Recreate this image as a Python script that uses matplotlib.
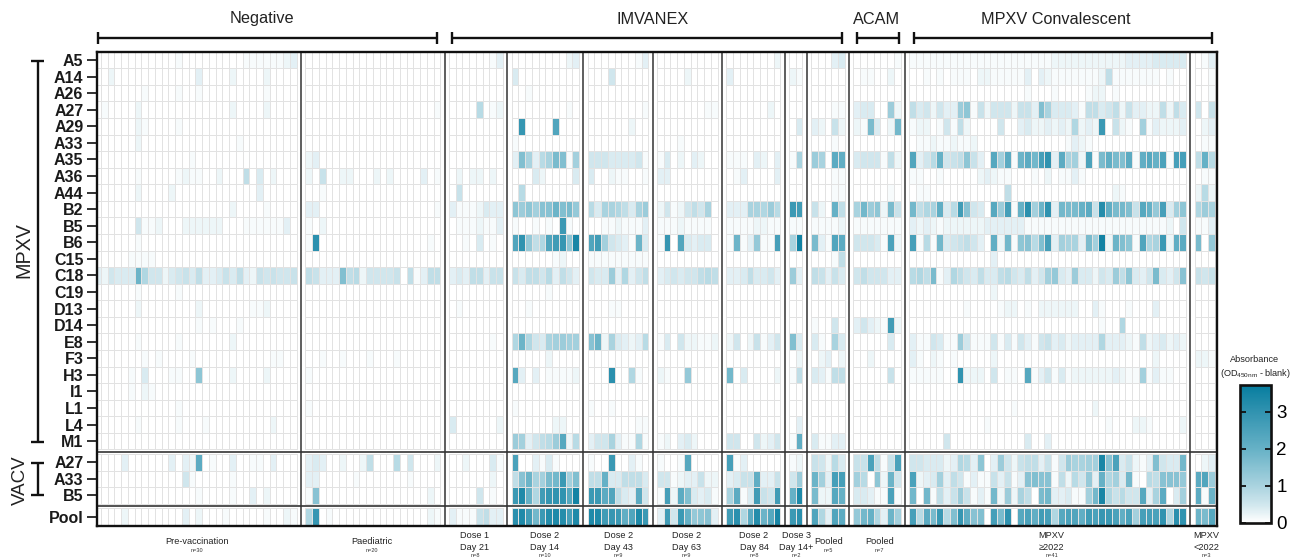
import matplotlib
matplotlib.use('Agg')
import numpy as np
import matplotlib.pyplot as plt
from matplotlib.colors import LinearSegmentedColormap, Normalize
from matplotlib.cm import ScalarMappable
from matplotlib.lines import Line2D

plt.rcParams['font.family'] = ['Liberation Sans', 'DejaVu Sans']
plt.rcParams['mathtext.fontset'] = 'custom'
plt.rcParams['mathtext.rm'] = 'Liberation Sans'
plt.rcParams['mathtext.default'] = 'regular'

W, H = 1298, 558

rows_mpxv = ['A5', 'A14', 'A26', 'A27', 'A29', 'A33', 'A35', 'A36', 'A44', 'B2', 'B5', 'B6',
             'C15', 'C18', 'C19', 'D13', 'D14', 'E8', 'F3', 'H3', 'I1', 'L1', 'L4', 'M1']
rows_vacv = ['A27', 'A33', 'B5']
rows_pool = ['Pool']

# one string per antigen, one char per sample, base 36 in tenths of OD (a = 1.0, k = 2.0 ...)
# short rows are filled up with zeros
pre_vaccination = [
    "00000 00000 00100 00000 00111 11123", "00200 00000 00000 30000 20000 20000",
    "00000 00100 00100 10000 00000 10000", "01000 02000 00000 00000 20000 20000",
    "00000 02100 00100", "00000 02000 00000 00000 01000",
    "00000 00000 00001", "00000 01000 00121 10020 00704 02000",
    "00000 02000 02000 00000 00003", "00000 00000 00000 00000 20000 10000",
    "00000 05112 00022 22220 00111 11130", "00000 01000",
    "00000 11110", "32544 4j955 24564 73346 47326 56556",
    "00000 01000 00100", "00000 02000 00000 20000 00011 20000",
    "00000 00000 00000 10100 01000", "00000 01000 00100 00000 20000",
    "00000 00101 00001 00000 00000 01100", "00000 10400 01100 e0000 20000 20000",
    "00000 10210", "00000 00000 00100",
    "00000 01000 00100 01000 00000 02000", "0",
    "00003 00000 03032 m0100 30011 03000", "00000 00000 00051 00000 10000",
    "00000 00000 00000 10000 10030 20000", "00002 00000 00030 20001 00000 10021",
]
paediatric = [
    "0", "0", "0", "00000 00000 00000 00001", "0", "0",
    "23", "20600 22000 20200 00301", "001", "33000 00000 00000 00001",
    "102", "1v000 00000 00000 00010", "0", "76333 g7825 55560 71377",
    "0", "0", "0", "0", "00100 10001 00010", "1",
    "0", "1", "0", "0",
    "34300 20027 00080 50002", "33000 00100 00000 1", "1f000 00000 00000 00020", "9t010 00000 00000 00021",
]
dose1_day21 = [
    "00000013", "0", "0", "00008012", "0", "0", "0", "02022020", "06", "31112433",
    "01112113", "00104010", "0", "34377366", "0", "01", "0", "00000010", "0", "0",
    "0", "0", "40000002", "0", "00200041", "00000020", "00005010", "31116733",
]
dose2_day14 = [
    "0000000023", "4", "001", "0000000010", "0t0000o000", "1", "3ga38ahg1b", "0004200004",
    "08", "ecebffjghd", "1001010s10", "oud79ortey", "0000001200", "6477583753", "000001",
    "001", "0", "9j954abcbb", "000002", "n303011112", "0", "1", "0000002200", "cb3578cn28",
    "p003141000", "7fjabhisbg", "sxk9rtuunz", "vxriswxwqx",
]
dose2_day43 = [
    "000000013", "0005", "0", "000000001", "0000002", "0", "555444451", "400211001",
    "0", "84aa974ac", "001121113", "orb5431j4", "111111111", "544c39357", "0",
    "00011", "0", "fj2a43238", "0", "000v0091", "0", "1001", "000000011", "355a31191",
    "100s0031", "77k447774", "ssmo743m5", "xxrtsloxs",
]
dose2_day63 = [
    "0", "00002", "0", "000000011", "0", "0001", "140203200", "33", "0", "2512575a0",
    "111211110", "1t0o43440", "0", "345455787", "0", "0", "0", "140522112", "0", "2100d",
    "0", "0", "0", "120342", "1001n", "551233622", "1q2mg4341", "3r5skdef3",
]
dose2_day84 = [
    "00000002", "3", "0", "0000002", "0", "0", "11103203", "01300003", "0", "333aa9c8",
    "11112211", "1j13d11q", "0", "33474453", "0", "0", "0", "25026135", "0", "i0400002",
    "0", "0", "0", "55005235", "q13", "3466l336", "am14r65r", "rv9mwjny",
]
dose3_day14 = [
    "00", "21", "00", "00", "04", "00", "1a", "00", "00", "sr", "11", "az", "00", "c3",
    "00", "00", "00", "g4", "02", "17", "00", "00", "03", "1l", "12", "5c", "kx", "sv",
]
imvanex_pooled = [
    "00034", "0", "0", "00011", "32062", "0001", "ca0ml", "00011", "00011", "620k7",
    "11112", "h31om", "00017", "76364", "0", "0", "1005", "410a4", "02302", "43177",
    "0", "0", "0", "41133", "65284", "jb3qq", "h22nk", "o93om",
]
acam_pooled = [
    "0000001", "011002", "0", "34400c2", "21h402i", "0", "4555172", "0", "000001", "aice2h6",
    "1111111", "55541p2", "0", "5755533", "0", "0", "35321r2", "000004", "002", "000006",
    "0", "0", "0", "0", "66p716p", "b80e2j5", "44311p1", "dik93jb",
]
convalescent_2022 = [
    "11111 11111 11111 11111 12222 22222 22333 34444 4",
    "00101 01110 22111 11303 21111 11127 11111 11010 0",
    "00000 00000 00000 00100 01000 01220 1",
    "74525 33ce1 62555 2663g a4443 17745 72633 22727 4",
    "12201 51720 00050 03422 32329 232s0 6210b 13222 3",
    "01121 12112 00000 00000 00013 21",
    "o358k 567e6 30nbm 1jmiq u3mab 2p1hl hgm1l nkp1q q",
    "11001 00000 23211 00010 20113 1",
    "01100 00000 00007 00000 00000 00000 21",
    "i79al 48rf5 40ncq 1kvbj u3ihh km6wl hig6n kdq4b e",
    "32321 22222 23333 33111 11111 11111 11111 11120 5",
    "q181i 45675 30l2i 1ef8g q3baa 3hbz2 jge1o 9as2l m",
    "00000 00000 003",
    "897h1 39754 74478 54735 bd43c 44254 c7e43 5h435 f",
    "00000 00000 002",
    "00000 00010 00012 20102 22222 00310 00100 03",
    "00000 00000 00000 00000 00000 00010 09",
    "31154 11c51 11514 15315 63423 33393 33217 23423 2",
    "31021 01000 00200 00000 00000 00000 00000 02",
    "11111 00u22 20501 10n13 51412 22222 3211b 13110 0",
    "0",
    "00000 00000 00000 10000 00000 002",
    "00000 00000 01000 00000 00000 00001 00022 10000 2",
    "00000 50000 00000 00400 3",
    "55444 23983 e03c5 26773 615ca abbyf p4621 3g544 i",
    "p234b 37513 11636 13fgf f1728 5d3k9 b4i10 87fff d",
    "i0i17 36c61 31i2c 2a70h i3341 1biy9 6855n 3am04 b",
    "q8mhs 8gtlf g0qhu 0nplr q9npo lrpts plpbq qpu9v u",
]
convalescent_pre2022 = [
    "013", "001", "001", "506", "023", "011", "7k8", "011", "282", "9ca", "113", "h0d",
    "000", "656", "000", "000", "000", "000", "221", "000", "000", "000", "000", "000",
    "023", "moc", "m1j", "jhn",
]

group_data = [pre_vaccination, paediatric, dose1_day21, dose2_day14, dose2_day43, dose2_day63,
              dose2_day84, dose3_day14, imvanex_pooled, acam_pooled, convalescent_2022,
              convalescent_pre2022]
group_sizes = [30, 20, 8, 10, 9, 9, 8, 2, 5, 7, 41, 3]


def decode(rows, n):
    out = []
    for row in rows:
        s = row.replace(' ', '').ljust(n, '0')[:n]
        out.append([int(c, 36) / 10 for c in s])
    return np.array(out)


def px_line(fig, xs, ys, lw=1.7):
    fig.add_artist(Line2D([x / W for x in xs], [1 - y / H for y in ys],
                          color='#111111', lw=lw, solid_capstyle='butt',
                          transform=fig.transFigure))


def px_text(fig, x, y, s, **kw):
    fig.text(x / W, 1 - y / H, s, ha='center', va='center', **kw)


VMAX = 3.71
cmap = LinearSegmentedColormap.from_list('absorbance', [
    (0.0, '#ffffff'),
    (0.5 / VMAX, '#cfe6ed'),
    (1.0 / VMAX, '#a9d3df'),
    (2.0 / VMAX, '#66b1c6'),
    (3.0 / VMAX, '#3193b0'),
    (1.0, '#077d9f')])
norm = Normalize(0, VMAX)

fig = plt.figure(figsize=(W / 100, H / 100), dpi=100)
ax = fig.add_axes([96.5 / W, 1 - 525.5 / H, 1120.5 / W, 473.8 / H])

PITCH = 6.75
GAP = 1.275
ROW_GAP = 0.277

sections = [(0, len(rows_mpxv)), (len(rows_mpxv), len(rows_vacv)),
            (len(rows_mpxv) + len(rows_vacv), len(rows_pool))]

yticks = []
ylabels = rows_mpxv + rows_vacv + rows_pool
section_edges = []
y0 = 0
for first, count in sections:
    yticks += [y0 + k + 0.5 for k in range(count)]
    section_edges.append((y0, y0 + count))
    y0 += count + ROW_GAP

x0 = 0
separators = []
for data, n in zip(group_data, group_sizes):
    values = decode(data, n)
    xe = x0 + np.arange(n + 1)
    for (first, count), (ya, yb) in zip(sections, section_edges):
        ye = np.arange(ya, yb + 0.5)
        ax.pcolormesh(xe, ye, values[first:first + count], cmap=cmap, norm=norm,
                      edgecolors='#e2e2e2', linewidth=0.7)
    x0 += n + GAP
    separators.append(x0 - GAP / 2)

for x in separators[:-1]:
    ax.axvline(x, color='#333333', lw=1.1, zorder=5)
for (ya, yb), (yc, yd) in zip(section_edges[:-1], section_edges[1:]):
    ax.axhline((yb + yc) / 2, color='#333333', lw=1.2, zorder=5)

ax.set_xlim(2.3 / PITCH, 1122.8 / PITCH)
ax.set_ylim(28.59, 0)
ax.set_xticks([])
ax.set_yticks(yticks)
ax.set_yticklabels(ylabels, fontsize=11.5, fontweight='bold', color='#1a1a1a')
ax.tick_params(axis='y', length=7.2, width=1.3, pad=2.2, color='#222222')
for s in ax.spines.values():
    s.set_linewidth(1.7)
    s.set_color('#111111')
    s.set_zorder(6)

# brackets on top
top_brackets = [(98, 437, 'Negative', 262), (452, 842, 'IMVANEX', 652.7),
                (857, 899, 'ACAM', 876.7), (914, 1212, 'MPXV Convalescent', 1055.7)]
for xa, xb, label, xc in top_brackets:
    px_line(fig, [xa, xb], [37.5, 37.5])
    px_line(fig, [xa, xa], [32, 44])
    px_line(fig, [xb, xb], [32, 44])
    px_text(fig, xc, 19, label, fontsize=11.7, color='#222222')

# brackets on the left
for ya, yb in [(60.5, 441.5), (462.5, 495)]:
    px_line(fig, [38, 38], [ya, yb])
    px_line(fig, [31, 44], [ya, ya])
    px_line(fig, [31, 44], [yb, yb])
px_text(fig, 23.5, 250, 'MPXV', fontsize=14.2, rotation=90, color='#222222')
px_text(fig, 20, 480, 'VACV', fontsize=13.5, rotation=90, color='#222222')

# group names under the heatmap
one_line = [(197, 'Pre-vaccination', 'n=30'), (371.7, 'Paediatric', 'n=20'),
            (828.7, 'Pooled', 'n=5'), (879.3, 'Pooled', 'n=7')]
two_line = [(475, 'Dose 1', 'Day 21', 'n=8'), (545, 'Dose 2', 'Day 14', 'n=10'),
            (618.3, 'Dose 2', 'Day 43', 'n=9'), (686.7, 'Dose 2', 'Day 63', 'n=9'),
            (754, 'Dose 2', 'Day 84', 'n=8'), (796.3, 'Dose 3', 'Day 14+', 'n=2'),
            (1051.7, 'MPXV', '≥2022', 'n=41'), (1206.3, 'MPXV', '<2022', 'n=3')]
for xc, name, n_txt in one_line:
    px_text(fig, xc, 541.7, name, fontsize=6.6, color='#222222')
    px_text(fig, xc, 551, n_txt, fontsize=4, color='#333333')
for xc, a, b, n_txt in two_line:
    px_text(fig, xc, 535.7, a, fontsize=6.6, color='#222222')
    px_text(fig, xc, 547.3, b, fontsize=6.6, color='#222222')
    px_text(fig, xc, 555.5, n_txt, fontsize=4, color='#333333')

# colour bar
cax = fig.add_axes([1239.5 / W, 1 - 522.7 / H, 31.2 / W, 137.4 / H])
cb = fig.colorbar(ScalarMappable(norm=norm, cmap=cmap), cax=cax, ticks=[0, 1, 2, 3])
cb.outline.set_linewidth(1.9)
cb.outline.set_edgecolor('#111111')
cax.tick_params(axis='y', which='both', direction='in', left=True, right=True,
                length=4, width=1.3, labelsize=13.5, pad=4, color='#111111')
px_text(fig, 1255, 360, 'Absorbance', fontsize=6.6, color='#222222')
px_text(fig, 1255, 373, '(OD$_{450nm}$ - blank)', fontsize=6.6, color='#222222')

plt.savefig('out.png', dpi=100)
plt.close()
